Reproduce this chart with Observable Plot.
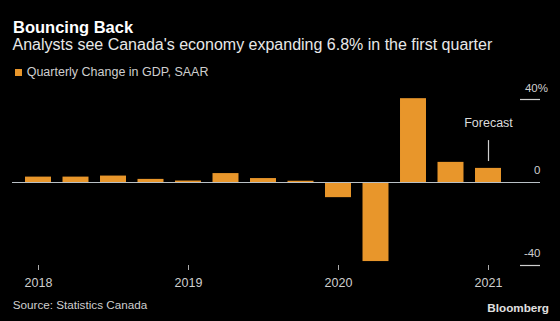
<!DOCTYPE html>
<html>
<head>
<meta charset="utf-8">
<script src="https://cdn.jsdelivr.net/npm/d3@7"></script>
<script src="https://cdn.jsdelivr.net/npm/@observablehq/plot@0.6"></script>
<style>
  html, body { margin: 0; padding: 0; background: #000; }
  body { width: 560px; height: 321px; overflow: hidden; position: relative; font-family: "Liberation Sans", Arial, sans-serif; }
  .abs { position: absolute; white-space: nowrap; }
  #title { left: 13px; top: 17px; line-height: 20px; font-size: 16.5px; font-weight: bold; color: #fff; }
  #subtitle { left: 12.5px; top: 34.5px; line-height: 20px; font-size: 16px; color: #e8e8e8; }
  #legend { left: 15px; top: 64px; line-height: 16px; font-size: 12.5px; color: #cfcfcf; }
  #legend .sw { display: inline-block; width: 7px; height: 7px; background: #e8962b; margin-right: 4.7px; vertical-align: 0px; }
  #chart { left: 0; top: 80px; }
  #source { left: 12.7px; top: 298px; line-height: 14px; font-size: 11.7px; color: #cfcfcf; }
  #brand { right: 11px; top: 300.7px; line-height: 14px; font-size: 11.7px; font-weight: bold; color: #e0e0e0; }
</style>
</head>
<body>
<div id="title" class="abs">Bouncing Back</div>
<div id="subtitle" class="abs">Analysts see Canada's economy expanding 6.8% in the first quarter</div>
<div id="legend" class="abs"><span class="sw"></span>Quarterly Change in GDP, SAAR</div>
<div id="chart" class="abs"></div>
<div id="source" class="abs">Source: Statistics Canada</div>
<div id="brand" class="abs">Bloomberg</div>
<script>
// Data
const quarters = ["2018 Q1","2018 Q2","2018 Q3","2018 Q4","2019 Q1","2019 Q2","2019 Q3","2019 Q4","2020 Q1","2020 Q2","2020 Q3","2020 Q4","2021 Q1"];
const gdpChange = [2.6, 2.6, 3.1, 1.5, 0.7, 4.3, 1.9, 0.6, -7.3, -38.1, 40.4, 9.7, 6.8];
const yearTicks = ["2018 Q1","2019 Q1","2020 Q1","2021 Q1"];
const yearLabels = ["2018","2019","2020","2021"];
const yTicks = [40, 0, -40];
const yTickLabels = ["40%", "0", "-40"];
const forecastQuarter = "2021 Q1";
const forecastLabel = "Forecast";
const forecastLabelY = 28.5;
const forecastLineY = [20.2, 10.1];

const data = quarters.map((q, i) => ({quarter: q, value: gdpChange[i]}));
const yLabelData = yTicks.map((v, i) => ({value: v, label: yTickLabels[i]}));
const yearLabelOf = new Map(yearTicks.map((q, i) => [q, yearLabels[i]]));

const ORANGE = "#e8962b";
const mL = 19.25, mR = 53.25;

const marks = [
  Plot.barY(data, {x: "quarter", y: "value", fill: ORANGE}),
  Plot.ruleY([0], {stroke: "#b9c0c6", strokeWidth: 1.2, insetLeft: -(mL - 12), insetRight: -(540 - (560 - mR))}),
  Plot.ruleY(yTicks.filter(d => d !== 0), {stroke: "#cfcfcf", strokeWidth: 1.2, insetLeft: 520 - mL, insetRight: -(540 - (560 - mR))}),
  Plot.text(yLabelData.filter(d => !d.label.includes("%")), {y: "value", text: "label", frameAnchor: "right", textAnchor: "end", dx: 540 - (560 - mR), dy: -12, fill: "#cfcfcf", fontSize: 11.5}),
  Plot.text(yLabelData.filter(d => d.label.includes("%")), {y: "value", text: "label", frameAnchor: "right", textAnchor: "end", dx: 547.5 - (560 - mR), dy: -11, fill: "#cfcfcf", fontSize: 11.5}),
  Plot.text([forecastLabel], {x: () => forecastQuarter, y: () => forecastLabelY, text: d => d, fill: "#dcdcdc", fontSize: 12.5}),
  Plot.ruleX([forecastQuarter], {x: d => d, y1: () => forecastLineY[0], y2: () => forecastLineY[1], stroke: "#cfcfcf", strokeWidth: 1.2})
];
if (Plot.axisX) {
  marks.push(Plot.axisX(yearTicks, {anchor: "bottom", tickSize: 5, tickPadding: 7.5, tickFormat: d => yearLabelOf.get(d), stroke: "#aaaaaa", fill: "#cfcfcf", fontSize: 12.5}));
}

const chart = Plot.plot({
  width: 560,
  height: 215,
  marginTop: 19,
  marginBottom: 30,
  marginLeft: mL,
  marginRight: mR,
  style: {background: "transparent", color: "#cfcfcf", fontFamily: "'Liberation Sans', Arial, sans-serif", fontSize: "12.5px", overflow: "visible"},
  x: {type: "band", domain: quarters, paddingInner: 0.307, paddingOuter: 0.1535, round: false, axis: Plot.axisX ? null : "bottom", ticks: yearTicks, tickFormat: d => yearLabelOf.get(d), tickSize: 5, tickPadding: 7.5, label: null},
  y: {domain: [-40, 40], axis: null},
  marks
});
document.getElementById("chart").appendChild(chart);
</script>
</body>
</html>
